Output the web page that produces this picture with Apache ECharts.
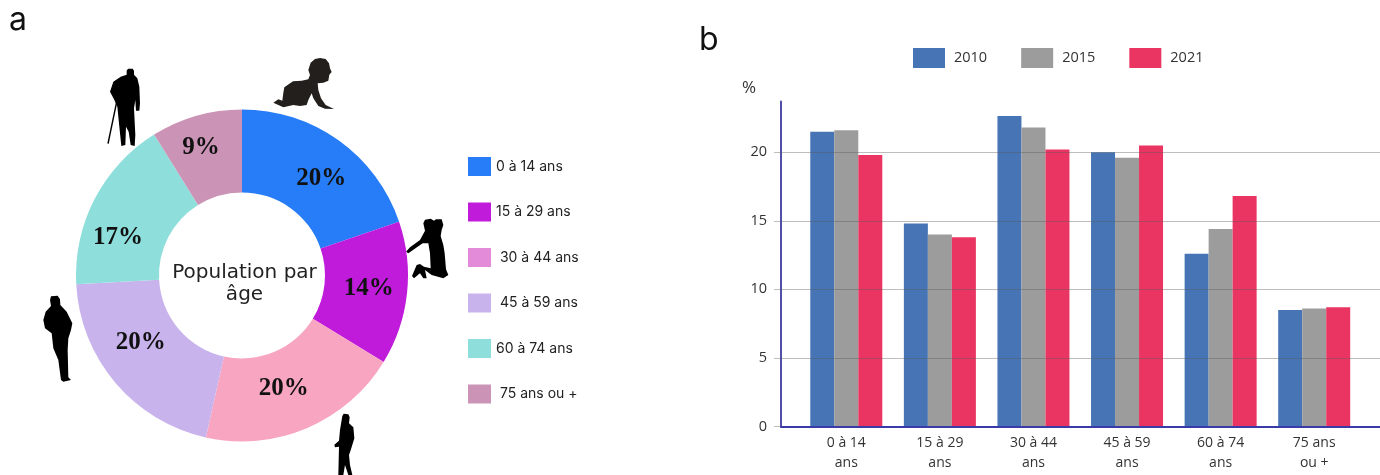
<!DOCTYPE html>
<html><head><meta charset="utf-8">
<style>html,body{margin:0;padding:0;background:#fff}#c{width:1380px;height:475px}</style>
<script src="https://cdn.jsdelivr.net/npm/echarts@6/dist/echarts.min.js"></script>
</head><body><div id="c"></div>
<script>
const ageLegend = ['0 à 14 ans','15 à 29 ans',' 30 à 44 ans',' 45 à 59 ans','60 à 74 ans',' 75 ans ou +'];
const pieValues = [19.8,14,19.8,20.7,17,8.9];
const pieLabels = ['20%','14%','20%','20%','17%','9%'];
const pieColors = ['#277CF7','#C01ADB','#F8A5C2','#C8B3EC','#8EDFDC','#CB94B6'];
const legendColors = ['#277CF7','#C01ADB','#E38AD8','#C8B3EC','#8EDFDC','#CB94B6'];
const labelOffsets = [[5,7],[0,-1],[-8,-4],[-4,-15],[-11,21],[-6,-5]];

const barCategories = ['0 à 14\nans','15 à 29\nans','30 à 44\nans','45 à 59\nans','60 à 74\nans','75 ans\nou +'];
const years = ['2010','2015','2021'];
const v2010 = [21.5,14.8,22.65,20,12.6,8.5];
const v2015 = [21.6,14,21.8,19.6,14.4,8.6];
const v2021 = [19.8,13.8,20.2,20.5,16.8,8.7];
const barColors = ['#4674B5','#9C9C9C','#EA3461'];
const gridValues = [5,10,15,20];

const silhouettes = [
 {pos:[265,50],fill:'#231f1c',d:'130 60 137 38 150 27 165 24 182 27 192 40 195 55 200 66 193 74 190 92 175 98 158 100 160 120 168 145 182 165 207 177 180 176 160 168 145 145 140 130 130 150 125 165 105 168 85 165 55 172 40 165 25 158 40 148 52 152 55 128 58 112 84 94 110 92 130 88 135 75'},
 {pos:[100,60],fill:'#000',d:'80 32 84 26 98 26 102 32 102 44 112 55 118 80 120 130 118 152 108 152 106 120 102 145 106 225 104 258 92 255 86 215 78 200 76 255 64 258 58 200 52 140 42 118 30 95 40 65 62 50 80 44'},
 {pos:[100,60],fill:'#000',d:'48 125 52 127 26 252 22 250'},
 {pos:[400,210],fill:'#000',d:'70 40 75 29 92 26 102 32 108 28 125 28 130 45 125 60 122 78 130 105 134 130 138 178 145 195 130 205 95 195 75 180 80 205 70 205 60 190 42 205 36 198 50 165 60 162 72 170 92 175 90 130 85 100 68 100 25 130 18 125 30 112 60 90 75 62'},
 {pos:[35,290],fill:'#000',d:'45 30 48 19 68 17 75 28 76 45 95 65 112 100 108 120 100 145 98 180 100 262 108 270 85 275 78 270 70 210 55 175 50 130 30 115 25 90 32 65 48 48'},
 {pos:[325,410],fill:'#000',d:'52 18 56 11 70 13 74 22 72 40 85 52 88 85 78 118 72 135 75 165 82 195 70 195 60 165 55 195 40 195 42 110 30 112 28 104 42 92 45 60'}
];
const toPoints = d => { const n = d.split(' ').map(Number), p = []; for (let i=0;i<n.length;i+=2) p.push([n[i],n[i+1]]); return p; };

const chart = echarts.init(document.getElementById('c'),null,{renderer:'canvas'});
const uiFont = 'Inter';
const gridColor = 'rgba(90,90,90,0.4)';
const barFont = '"Open Sans"';
const common = {type:'bar',barWidth:24,barGap:'0%',xAxisIndex:1,yAxisIndex:1,z:2};
chart.setOption({
 backgroundColor:'#fff',
 animation:false,
 legend:[
  {left:468,top:157,padding:0,orient:'vertical',itemWidth:23,itemHeight:19,itemGap:26.5,icon:'rect',
   data:ageLegend.map((n,i)=>({name:n,itemStyle:{color:legendColors[i]}})),
   textStyle:{fontFamily:uiFont,fontSize:14,color:'#222'},selectedMode:false},
  {left:913,top:48,padding:0,itemWidth:32,itemHeight:20,itemGap:34,icon:'rect',data:years,
   textStyle:{fontFamily:barFont,fontSize:14.5,color:'#333',padding:[0,0,0,4]},selectedMode:false}
 ],
 graphic:[
  {type:'text',x:9,y:4,style:{text:'a',font:'32px Inter',fill:'#111'}},
  {type:'text',x:699,y:24,style:{text:'b',font:'32px Inter',fill:'#111'}},
  {type:'text',x:742,y:80,style:{text:'%',font:'17px "Open Sans"',fill:'#333'}},
  {type:'text',x:244.5,y:284,z:10,style:{text:'Population par\nâge',font:'20px "DejaVu Sans"',lineHeight:22,fill:'#222',align:'center',verticalAlign:'middle'}},
  ...silhouettes.map(s=>({type:'polygon',x:s.pos[0],y:s.pos[1],scaleX:1/3,scaleY:1/3,
    shape:{points:toPoints(s.d)},style:{fill:s.fill}}))
 ],
 grid:[
  {left:781,right:0,top:101.5,bottom:48.5,outerBoundsMode:'none'},
  {left:799.5,right:19,top:101.5,bottom:48.5,outerBoundsMode:'none'}
 ],
 xAxis:[
  {gridIndex:0,type:'value',min:0,max:1,axisLabel:{show:false},splitLine:{show:false},axisTick:{show:false},
   axisLine:{show:true,onZero:false,lineStyle:{color:'#3a3aa8',width:2}},z:4},
  {gridIndex:1,type:'category',data:barCategories,axisLine:{show:false},axisTick:{show:false},
   axisLabel:{margin:7,fontFamily:barFont,fontSize:14,lineHeight:20,color:'#333',interval:0}}
 ],
 yAxis:[
  {gridIndex:0,type:'value',min:0,max:23.7,interval:5,
   axisLine:{show:true,lineStyle:{color:'#4f4fa8',width:2}},
   axisTick:{show:true,length:7,lineStyle:{color:gridColor}},
   axisLabel:{margin:14,fontFamily:barFont,fontSize:14.5,color:'#333',showMaxLabel:false},
   splitLine:{show:false},z:4},
  {gridIndex:1,type:'value',min:0,max:23.7,interval:5,show:false}
 ],
 series:[
  {type:'pie',center:[242,275.4],radius:[83,166],startAngle:90,clockwise:true,silent:true,legendHoverLink:false,
   data:pieValues.map((v,i)=>({value:v,name:ageLegend[i],itemStyle:{color:pieColors[i]},
     label:{offset:labelOffsets[i]}})),
   label:{show:true,position:'inside',formatter:p=>pieLabels[p.dataIndex],fontFamily:'"Liberation Serif"',fontWeight:'bold',fontSize:25,color:'#111'},
   labelLine:{show:false},itemStyle:{borderWidth:0}},
  {...common,name:years[0],data:v2010,itemStyle:{color:barColors[0]}},
  {...common,name:years[1],data:v2015,itemStyle:{color:barColors[1]}},
  {...common,name:years[2],data:v2021,itemStyle:{color:barColors[2]}},
  {type:'line',name:'grid',xAxisIndex:0,yAxisIndex:0,data:[],z:6,silent:true,
   markLine:{silent:true,symbol:'none',z:6,animation:false,label:{show:false},
     lineStyle:{type:'solid',width:1.2,color:gridColor},
     data:gridValues.map(v=>({yAxis:v}))}}
 ]
});
</script></body></html>
